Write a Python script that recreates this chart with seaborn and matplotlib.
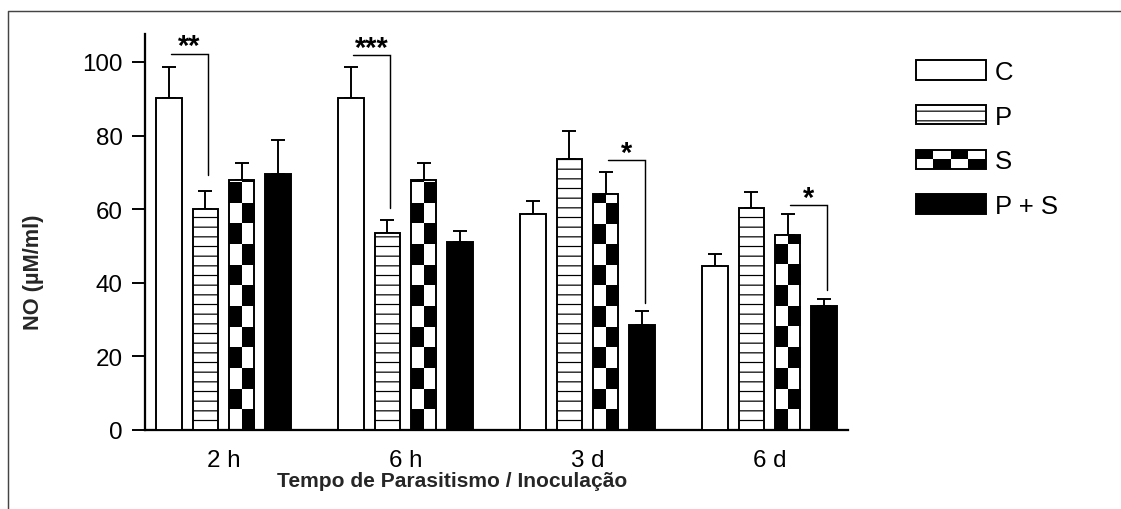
import numpy as np
import pandas as pd
import matplotlib
matplotlib.use("Agg")
import matplotlib.pyplot as plt
import seaborn as sns
from matplotlib.patches import Rectangle, Patch
from matplotlib.legend_handler import HandlerPatch
from matplotlib.lines import Line2D

# ---- data -------------------------------------------------------------
times = ["2 h", "6 h", "3 d", "6 d"]
groups = ["C", "P", "S", "P + S"]

no_c = [90.2, 90.2, 58.6, 44.5]
no_p = [60.0, 53.5, 73.6, 60.3]
no_s = [68.0, 68.0, 64.0, 53.0]
no_ps = [69.6, 51.0, 28.5, 33.6]

err_c = [8.5, 8.5, 3.5, 3.2]
err_p = [5.0, 3.6, 7.6, 4.5]
err_s = [4.6, 4.6, 6.2, 5.7]
err_ps = [9.2, 3.1, 3.9, 2.1]

# significance brackets: (time index, left group, right group, label, bar-top level, drop level)
sig_time = [0, 1, 2, 3]
sig_left = ["C", "C", "S", "S"]
sig_right = ["P", "P", "P + S", "P + S"]
sig_label = ["**", "***", "*", "*"]
sig_level = [102.3, 101.9, 73.4, 61.1]
sig_drop = [69.4, 60.3, 34.5, 38.0]

# ---- styling ----------------------------------------------------------
DPI = 116
sns.set_style("ticks")
plt.rcParams["font.family"] = ["Liberation Sans", "DejaVu Sans"]
plt.rcParams["hatch.linewidth"] = 0.75
plt.rcParams["text.color"] = "black"

df = pd.DataFrame({
    "time": np.repeat(times, len(groups)),
    "group": groups * len(times),
    "no": [v for row in zip(no_c, no_p, no_s, no_ps) for v in row],
    "err": [v for row in zip(err_c, err_p, err_s, err_ps) for v in row],
})

fig = plt.figure(figsize=(1121 / DPI, 510 / DPI), dpi=DPI)
ax = fig.add_axes([145 / 1121, 1 - 431 / 510, 703 / 1121, 396 / 510])

palette = {"C": "white", "P": "white", "S": "white", "P + S": "black"}
sns.barplot(data=df, x="time", y="no", hue="group", order=times,
            hue_order=groups, palette=palette, edgecolor="black",
            linewidth=1.2, gap=0.3, width=0.8, errorbar=None,
            legend=False, ax=ax, zorder=3)

bar_lw = 1.2
cell_h = 5.6
positions = {}
for gi, (g, cont) in enumerate(zip(groups, ax.containers)):
    errs = df[df["group"] == g]["err"].to_numpy()
    for ti, bar in enumerate(cont):
        x0, w, h = bar.get_x(), bar.get_width(), bar.get_height()
        xc = x0 + w / 2
        positions[(ti, g)] = xc
        # one-sided (upper) error bar
        ax.errorbar([xc], [h], yerr=[[0], [errs[ti]]], fmt="none",
                    ecolor="black", elinewidth=1.2, capsize=4.2,
                    capthick=1.2, zorder=2)
        if g == "P":
            bar.set_hatch("--")
        if g == "S":
            nrow = int(np.ceil(h / cell_h)) + 1
            arr = np.indices((nrow, 2)).sum(axis=0) % 2
            if ti % 2:
                arr = 1 - arr
            bar.set_facecolor("none")
            im = ax.imshow(arr, extent=(x0, x0 + w, 0, nrow * cell_h),
                           origin="lower", cmap="gray_r", vmin=0, vmax=1,
                           interpolation="nearest", aspect="auto", zorder=2.5)
            im.set_clip_path(bar)

# significance brackets
for ti, gl, gr, lab, lvl, drop in zip(sig_time, sig_left, sig_right,
                                      sig_label, sig_level, sig_drop):
    xl = positions[(ti, gl)] + 0.01
    xr = positions[(ti, gr)] + 0.015
    ax.plot([xl, xr, xr], [lvl, lvl, drop], color="black", lw=0.9,
            solid_joinstyle="miter", zorder=4, clip_on=False)
    ax.text((xl + xr) / 2, lvl - 1.8, lab, ha="center", va="bottom",
            fontsize=18, fontweight="bold", zorder=4)

ax.set_xlim(-0.431, 3.431)
ax.set_ylim(0, 107.6)
ax.set_yticks([0, 20, 40, 60, 80, 100])
ax.tick_params(axis="y", length=8, width=1.2, pad=6, labelsize=15,
               colors="black")
ax.tick_params(axis="x", length=0, pad=12, labelsize=15, colors="black")
for side in ["left", "bottom"]:
    ax.spines[side].set_linewidth(1.4)
    ax.spines[side].set_color("black")
sns.despine(ax=ax)

ax.set_xlabel("Tempo de Parasitismo / Inoculação", fontsize=13,
              fontweight="bold")
ax.xaxis.set_label_coords(0.437, -0.103)
ax.set_ylabel("NO (µM/ml)", fontsize=13.5, fontweight="bold")
ax.yaxis.set_label_coords(-0.143, 0.40)


# legend with a checkerboard key for the S group
class CheckerHandler(HandlerPatch):
    def create_artists(self, legend, orig_handle, xdescent, ydescent,
                       width, height, fontsize, trans):
        artists = []
        ncol, nrow = 4, 2
        cw, ch = width / ncol, height / nrow
        for r in range(nrow):
            for c in range(ncol):
                col = "black" if (r + c) % 2 else "white"
                artists.append(Rectangle((-xdescent + c * cw, -ydescent + r * ch),
                                         cw, ch, facecolor=col, edgecolor="none",
                                         transform=trans))
        artists.append(Rectangle((-xdescent, -ydescent), width, height,
                                 facecolor="none", edgecolor="black",
                                 lw=bar_lw, transform=trans))
        return artists


handles = [
    Patch(facecolor="white", edgecolor="black", lw=bar_lw),
    Patch(facecolor="white", edgecolor="black", lw=bar_lw, hatch="--"),
    Patch(facecolor="white", edgecolor="black", lw=bar_lw),
    Patch(facecolor="black", edgecolor="black", lw=bar_lw),
]
leg = fig.legend(handles, groups, loc="upper left",
                 bbox_to_anchor=(916 / 1121, 1 - 61 / 510),
                 frameon=False, fontsize=16, handlelength=2.7,
                 handleheight=0.78, handletextpad=0.35, labelspacing=0.8,
                 borderpad=0, borderaxespad=0,
                 handler_map={handles[2]: CheckerHandler()})

# outer frame lines (left and top)
fx = 8 / 1121
fy = 1 - 12 / 510
fig.add_artist(Line2D([fx, fx, 1], [0, fy, fy], transform=fig.transFigure,
                      color="#444444", lw=0.9))

fig.savefig("out.png", dpi=DPI)
